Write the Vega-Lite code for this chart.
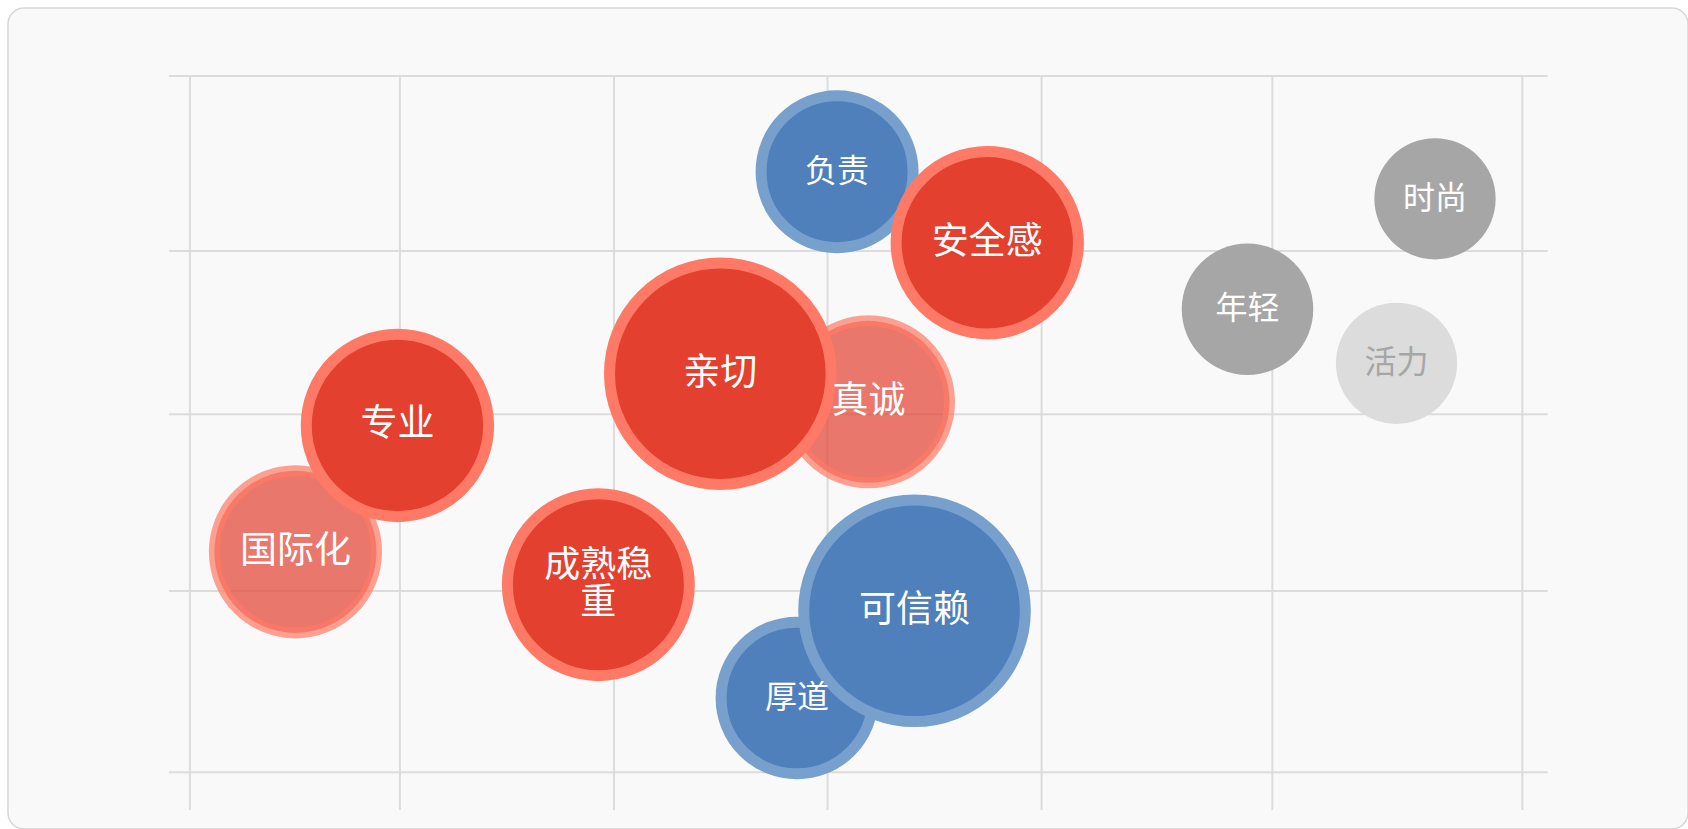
{
  "$schema": "https://vega.github.io/schema/vega-lite/v6.json",
  "width": 1680,
  "height": 821,
  "autosize": "none",
  "padding": {"left": 8, "top": 8, "right": 0, "bottom": 0},
  "background": "#ffffff",
  "config": {
    "view": {"fill": "#f9f9f9", "stroke": "#d6d6d6", "strokeWidth": 1.5, "cornerRadius": 16}
  },
  "datasets": {
    "grid": [
      {"x1": 10.83, "x2": 10.83, "y1": 2.31, "y2": 91.72},
      {"x1": 23.33, "x2": 23.33, "y1": 2.31, "y2": 91.72},
      {"x1": 36.07, "x2": 36.07, "y1": 2.31, "y2": 91.72},
      {"x1": 48.78, "x2": 48.78, "y1": 2.31, "y2": 91.72},
      {"x1": 61.52, "x2": 61.52, "y1": 2.31, "y2": 91.72},
      {"x1": 75.26, "x2": 75.26, "y1": 2.31, "y2": 91.72},
      {"x1": 90.14, "x2": 90.14, "y1": 2.31, "y2": 91.72},
      {"x1": 9.58, "x2": 91.65, "y1": 91.72, "y2": 91.72},
      {"x1": 9.58, "x2": 91.65, "y1": 70.4, "y2": 70.4},
      {"x1": 9.58, "x2": 91.65, "y1": 50.51, "y2": 50.51},
      {"x1": 9.58, "x2": 91.65, "y1": 28.99, "y2": 28.99},
      {"x1": 9.58, "x2": 91.65, "y1": 6.91, "y2": 6.91}
    ],
    "bubbles": [
      {"label": "厚道", "x": 46.96, "y": 15.96, "v": 46.0, "group": "blue"},
      {"label": "可信赖", "x": 53.96, "y": 26.58, "v": 98.2, "group": "blue"},
      {"label": "负责", "x": 49.35, "y": 80.06, "v": 46.2, "group": "blue"},
      {"label": "安全感", "x": 58.29, "y": 71.41, "v": 66.5, "group": "red"},
      {"label": "真诚", "x": 51.22, "y": 52.03, "v": 52.5, "group": "redFaded"},
      {"label": "亲切", "x": 42.4, "y": 55.46, "v": 98.2, "group": "red"},
      {"label": "国际化", "x": 17.11, "y": 33.76, "v": 52.6, "group": "redFaded"},
      {"label": "专业", "x": 23.18, "y": 49.15, "v": 66.5, "group": "red"},
      {"label": "成熟稳\n重", "x": 35.14, "y": 29.76, "v": 66.2, "group": "red"},
      {"label": "时尚", "x": 84.94, "y": 76.76, "v": 29.4, "group": "gray"},
      {"label": "年轻", "x": 73.78, "y": 63.31, "v": 34.6, "group": "gray"},
      {"label": "活力", "x": 82.65, "y": 56.72, "v": 29.4, "group": "lightgray"}
    ]
  },
  "layer": [
    {
      "data": {"name": "grid"},
      "mark": {"type": "rule", "color": "#dcdcdc", "strokeWidth": 2},
      "encoding": {
        "x": {"field": "x1", "type": "quantitative", "scale": {"domain": [0, 100], "nice": false, "zero": false}, "axis": null},
        "x2": {"field": "x2"},
        "y": {"field": "y1", "type": "quantitative", "scale": {"domain": [0, 100], "nice": false, "zero": false}, "axis": null},
        "y2": {"field": "y2"}
      }
    },
    {
      "data": {"name": "bubbles"},
      "mark": {"type": "circle", "strokeWidth": 11, "opacity": 1},
      "encoding": {
        "x": {"field": "x", "type": "quantitative", "axis": null},
        "y": {"field": "y", "type": "quantitative", "axis": null},
        "size": {"field": "v", "type": "quantitative", "legend": null, "scale": {"domain": [0, 100], "range": [0, 50000]}},
        "fill": {"field": "group", "type": "nominal", "legend": null,
          "scale": {"domain": ["red", "redFaded", "blue", "gray", "lightgray"], "range": ["#e3402f", "#e3402f", "#4f80bc", "#a6a6a6", "#dcdcdc"]}},
        "stroke": {"field": "group", "type": "nominal", "legend": null,
          "scale": {"domain": ["red", "redFaded", "blue", "gray", "lightgray"], "range": ["#ff7a66", "#ff7a66", "#78a0cd", "transparent", "transparent"]}},
        "fillOpacity": {"condition": {"test": "datum.group === 'redFaded'", "value": 0.7}, "value": 1},
        "strokeOpacity": {"condition": {"test": "datum.group === 'redFaded'", "value": 0.7}, "value": 1}
      }
    },
    {
      "data": {"name": "bubbles"},
      "transform": [{"filter": "indexof(datum.label, '\\n') < 0"}],
      "mark": {"type": "text", "font": "Noto Sans CJK SC", "baseline": "middle", "align": "center"},
      "encoding": {
        "x": {"field": "x", "type": "quantitative", "axis": null},
        "y": {"field": "y", "type": "quantitative", "axis": null},
        "text": {"field": "label"},
        "size": {"field": "v", "type": "quantitative", "legend": null, "scale": {"type": "threshold", "domain": [50], "range": [32, 37]}},
        "color": {"condition": {"test": "datum.group === 'lightgray'", "value": "#a6a6a6"}, "value": "#ffffff"}
      }
    },
    {
      "data": {"name": "bubbles"},
      "transform": [{"filter": "indexof(datum.label, '\\n') >= 0"}],
      "mark": {"type": "text", "font": "Noto Sans CJK SC", "baseline": "middle", "align": "center", "lineBreak": "\n", "lineHeight": 37, "dy": -18.5, "fontSize": 36, "color": "#ffffff"},
      "encoding": {
        "x": {"field": "x", "type": "quantitative", "axis": null},
        "y": {"field": "y", "type": "quantitative", "axis": null},
        "text": {"field": "label"}
      }
    }
  ],
  "resolve": {"scale": {"size": "independent"}}
}
